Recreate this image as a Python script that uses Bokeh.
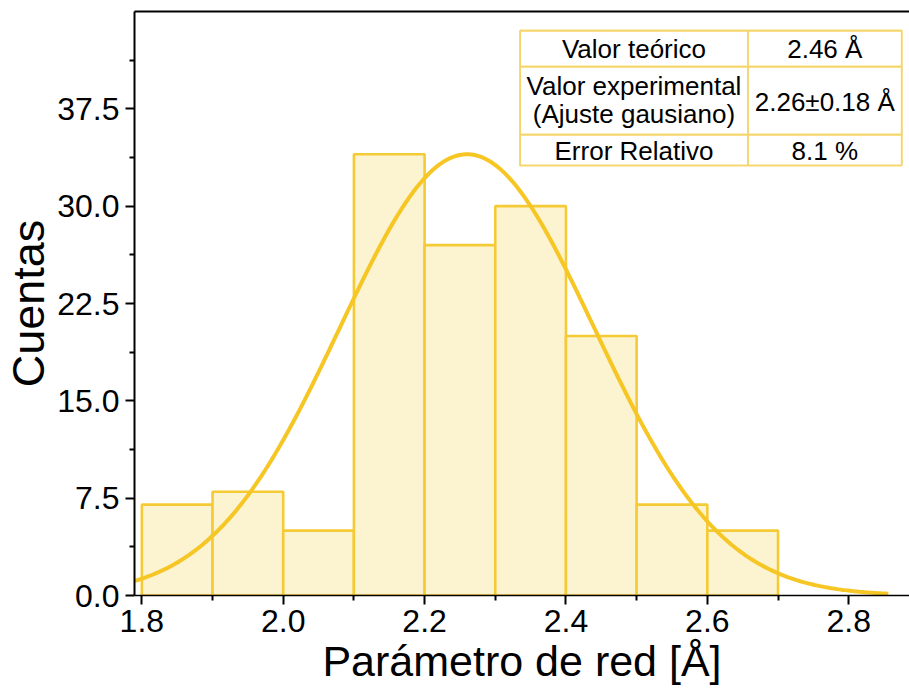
import numpy as np
from bokeh.plotting import figure
from bokeh.models import Range1d, LinearAxis, BoxAnnotation, Label, FixedTicker, NumeralTickFormatter
from bokeh.embed import file_html
from bokeh.resources import INLINE

# ---- data ----
bin_left = [1.8, 1.9, 2.0, 2.1, 2.2, 2.3, 2.4, 2.5, 2.6]
bin_right = [1.9, 2.0, 2.1, 2.2, 2.3, 2.4, 2.5, 2.6, 2.7]
counts = [7, 8, 5, 34, 27, 30, 20, 7, 5]

fit_center = 2.26
fit_sigma = 0.18
fit_amplitude = 34.0
fit_x_start = 1.79
fit_x_end = 2.856

x_ticks = [1.8, 2.0, 2.2, 2.4, 2.6, 2.8]
x_minor_ticks = [1.9, 2.1, 2.3, 2.5, 2.7]
y_ticks = [0.0, 7.5, 15.0, 22.5, 30.0, 37.5]
y_minor_ticks = [3.75, 11.25, 18.75, 26.25, 33.75, 41.25]

table_left_col = ["Valor teórico", "Valor experimental", "(Ajuste gausiano)", "Error Relativo"]
table_right_col = ["2.46 Å", "2.26±0.18 Å", "8.1 %"]

x_label = "Parámetro de red [Å]"
y_label = "Cuentas"

# ---- figure ----
FONT = "Liberation Sans"
X0, X1 = 1.7896, 2.886
Y0, Y1 = 0.0, 45.0

p = figure(width=909, height=697, x_range=Range1d(X0, X1), y_range=Range1d(Y0, Y1),
           output_backend="svg", toolbar_location=None,
           min_border_left=133, min_border_right=0, min_border_top=11, min_border_bottom=102)
p.outline_line_color = None
p.xgrid.visible = False
p.ygrid.visible = False
p.background_fill_color = "white"
p.border_fill_color = "white"

BAR_FILL = "#FCF3D1"
BAR_LINE = "#F5CB35"
CURVE = "#F5C624"
TABLE_LINE = "#F5D56A"

p.quad(left=bin_left, right=bin_right, bottom=0, top=counts,
       fill_color=BAR_FILL, line_color=BAR_LINE, line_width=2.6)

xs = np.linspace(fit_x_start, fit_x_end, 400)
ys = fit_amplitude * np.exp(-(xs - fit_center) ** 2 / (2 * fit_sigma ** 2))
p.line(xs, ys, line_color=CURVE, line_width=4)

# axes
for ax in (p.xaxis[0], p.yaxis[0]):
    ax.axis_line_color = "black"
    ax.major_tick_line_color = "black"
    ax.minor_tick_line_color = "black"
    ax.major_tick_line_width = 2
    ax.minor_tick_line_width = 2
    ax.major_tick_in = 0
    ax.major_tick_out = 9
    ax.minor_tick_in = 0
    ax.minor_tick_out = 5
    ax.major_label_text_font = FONT
    ax.major_label_text_font_size = "32px"
    ax.major_label_text_color = "black"
    ax.axis_label_text_font = FONT
    ax.axis_label_text_font_style = "normal"
    ax.axis_label_text_color = "black"
    ax.formatter = NumeralTickFormatter(format="0.0")

p.yaxis[0].axis_line_width = 2
p.xaxis[0].axis_line_width = 1.5
p.xaxis[0].ticker = FixedTicker(ticks=x_ticks, minor_ticks=x_minor_ticks)
p.yaxis[0].ticker = FixedTicker(ticks=y_ticks, minor_ticks=y_minor_ticks)
p.xaxis[0].major_label_standoff = 5
p.yaxis[0].major_label_standoff = 6
p.xaxis[0].axis_label = x_label
p.yaxis[0].axis_label = y_label
p.xaxis[0].axis_label_text_font_size = "43px"
p.yaxis[0].axis_label_text_font_size = "45px"
p.xaxis[0].axis_label_standoff = 2
p.yaxis[0].axis_label_standoff = 0

top_axis = LinearAxis(ticker=FixedTicker(ticks=[]), axis_line_width=2, axis_line_color="black",
                      major_tick_line_color=None, minor_tick_line_color=None)
p.add_layout(top_axis, "above")

# ---- table (positions from pixel layout) ----
def dx(px):
    return X0 + (px - 133) / 707.6

def dy(py):
    return (595 - py) / 12.98

t_left, t_mid, t_right = dx(519), dx(747), dx(901)
r_top, r1, r2, r_bot = dy(30), dy(66), dy(134), dy(165)

p.add_layout(BoxAnnotation(left=t_left, right=t_right, top=r_top, bottom=r_bot,
                           fill_color="white", fill_alpha=1.0,
                           line_color=TABLE_LINE, line_width=1.6, line_alpha=1.0))
for (a, b) in [(r_top, r1), (r1, r2), (r2, r_bot)]:
    for (l, r) in [(t_left, t_mid), (t_mid, t_right)]:
        p.add_layout(BoxAnnotation(left=l, right=r, top=a, bottom=b,
                                   fill_color=None, fill_alpha=0,
                                   line_color=TABLE_LINE, line_width=1.6, line_alpha=1.0))

cx_l = (t_left + t_mid) / 2
cx_r = (t_mid + t_right) / 2
left_y = [dy(48), dy(85), dy(113), dy(150)]
right_y = [dy(48), dy(101), dy(150)]
for txt, yy in zip(table_left_col, left_y):
    p.add_layout(Label(x=cx_l, y=yy, text=txt, text_align="center", text_baseline="middle",
                       text_font=FONT, text_font_size="26px", text_color="black"))
for txt, yy in zip(table_right_col, right_y):
    p.add_layout(Label(x=cx_r, y=yy, text=txt, text_align="center", text_baseline="middle",
                       text_font=FONT, text_font_size="26px", text_color="black"))

open("out.html", "w").write(file_html(p, INLINE))
